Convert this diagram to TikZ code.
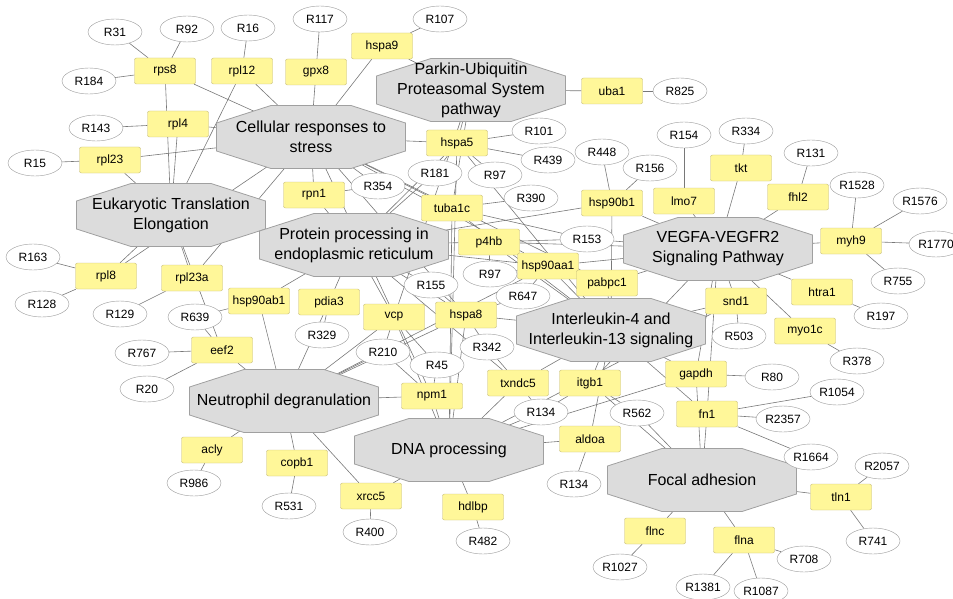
\documentclass[tikz,border=0pt]{standalone}
\usepackage{fontspec}
\setmainfont{Liberation Sans}
\usetikzlibrary{shapes.geometric, backgrounds}
\definecolor{genecolor}{RGB}{255,247,153}
\definecolor{geneborder}{RGB}{196,186,120}
\definecolor{pathcolor}{RGB}{220,220,220}
\definecolor{pathborder}{RGB}{160,160,160}
\definecolor{reactborder}{RGB}{150,150,150}
\definecolor{linkcolor}{RGB}{120,120,120}
\tikzset{
    pathway/.style={
        rectangle, minimum width=190pt, minimum height=64pt, inner sep=0pt,
        align=center, font=\fontsize{16}{20}\selectfont,
        path picture={
            \filldraw[fill=pathcolor, draw=pathborder, line width=0.8pt]
                ([xshift=55pt, yshift=-0.5pt]path picture bounding box.north west)
                -- ([xshift=-55pt, yshift=-0.5pt]path picture bounding box.north east)
                -- ([xshift=-0.5pt, yshift=-18pt]path picture bounding box.north east)
                -- ([xshift=-0.5pt, yshift=18pt]path picture bounding box.south east)
                -- ([xshift=-55pt, yshift=0.5pt]path picture bounding box.south east)
                -- ([xshift=55pt, yshift=0.5pt]path picture bounding box.south west)
                -- ([xshift=0.5pt, yshift=18pt]path picture bounding box.south west)
                -- ([xshift=0.5pt, yshift=-18pt]path picture bounding box.north west)
                -- cycle;
        }
    },
    gene/.style={
        rectangle, draw=geneborder, fill=genecolor, minimum width=61pt, minimum height=26pt,
        rounded corners=2pt, inner sep=1pt, font=\fontsize{12}{14}\selectfont
    },
    react/.style={
        ellipse, draw=reactborder, fill=white, minimum width=54pt, minimum height=26pt,
        inner sep=1pt, font=\fontsize{12}{14}\selectfont
    },
    link/.style={draw=linkcolor, line width=0.6pt}
}

\begin{document}
\begin{tikzpicture}[x=1pt, y=-1pt]
\useasboundingbox (0,0) rectangle (953,599);

% Pathways
\node[pathway] (crs) at (311,137) {Cellular responses to\\stress};
\node[pathway] (pups) at (471,90) {Parkin-Ubiquitin\\Proteasomal System\\pathway};
\node[pathway] (ete) at (171,215) {Eukaryotic Translation\\Elongation};
\node[pathway] (pper) at (354,245) {Protein processing in\\endoplasmic reticulum};
\node[pathway] (vegf) at (718,249) {VEGFA-VEGFR2\\Signaling Pathway};
\node[pathway] (il) at (611,330) {Interleukin-4 and\\Interleukin-13 signaling};
\node[pathway] (nd) at (284,401) {Neutrophil degranulation};
\node[pathway] (dna) at (449,450) {DNA processing};
\node[pathway] (fa) at (702,480) {Focal adhesion};

% Genes
\node[gene] (rps8) at (165,71) {rps8};
\node[gene] (rpl12) at (242,71) {rpl12};
\node[gene] (gpx8) at (316,72) {gpx8};
\node[gene] (hspa9) at (382,46) {hspa9};
\node[gene] (uba1) at (612,91) {uba1};
\node[gene] (rpl4) at (178,124) {rpl4};
\node[gene] (rpl23) at (110,160) {rpl23};
\node[gene] (hspa5) at (457,143) {hspa5};
\node[gene] (rpn1) at (314,195) {rpn1};
\node[gene] (tuba1c) at (452,208) {tuba1c};
\node[gene] (hsp90b1) at (612,203) {hsp90b1};
\node[gene] (lmo7) at (684,201) {lmo7};
\node[gene] (tkt) at (741,168) {tkt};
\node[gene] (fhl2) at (798,197) {fhl2};
\node[gene] (myh9) at (851,241) {myh9};
\node[gene] (p4hb) at (489,242) {p4hb};
\node[gene] (hsp90aa1) at (548,266) {hsp90aa1};
\node[gene] (pabpc1) at (607,283) {pabpc1};
\node[gene] (rpl8) at (106,276) {rpl8};
\node[gene] (rpl23a) at (192,278) {rpl23a};
\node[gene] (hsp90ab1) at (259,301) {hsp90ab1};
\node[gene] (pdia3) at (329,302) {pdia3};
\node[gene] (vcp) at (394,317) {vcp};
\node[gene] (hspa8) at (466,315) {hspa8};
\node[gene] (snd1) at (736,301) {snd1};
\node[gene] (htra1) at (822,292) {htra1};
\node[gene] (myo1c) at (805,331) {myo1c};
\node[gene] (eef2) at (222,350) {eef2};
\node[gene] (gapdh) at (696,374) {gapdh};
\node[gene] (txndc5) at (518,383) {txndc5};
\node[gene] (itgb1) at (590,383) {itgb1};
\node[gene] (npm1) at (432,396) {npm1};
\node[gene] (fn1) at (707,414) {fn1};
\node[gene] (aldoa) at (590,439) {aldoa};
\node[gene] (acly) at (212,450) {acly};
\node[gene] (copb1) at (297,463) {copb1};
\node[gene] (xrcc5) at (371,496) {xrcc5};
\node[gene] (hdlbp) at (473,507) {hdlbp};
\node[gene] (tln1) at (841,497) {tln1};
\node[gene] (flnc) at (655,531) {flnc};
\node[gene] (flna) at (744,540) {flna};

% Reactions
\node[react] (r31) at (115,32) {R31};
\node[react] (r92) at (187,29) {R92};
\node[react] (r16) at (248,28) {R16};
\node[react] (r117) at (320,19) {R117};
\node[react] (r107) at (440,19) {R107};
\node[react] (r184) at (89,81) {R184};
\node[react] (r825) at (680,91) {R825};
\node[react] (r143) at (96,128) {R143};
\node[react] (r15) at (35,163) {R15};
\node[react] (r101) at (539,131) {R101};
\node[react] (r439) at (548,160) {R439};
\node[react] (r97a) at (495,175) {R97};
\node[react] (r181) at (435,173) {R181};
\node[react] (r354) at (378,186) {R354};
\node[react] (r390) at (531,198) {R390};
\node[react] (r448) at (602,152) {R448};
\node[react] (r154) at (684,135) {R154};
\node[react] (r334) at (746,131) {R334};
\node[react] (r156) at (650,168) {R156};
\node[react] (r131) at (811,153) {R131};
\node[react] (r1528) at (857,185) {R1528};
\node[react] (r1576) at (920,201) {R1576};
\node[react] (r1770) at (936,244) {R1770};
\node[react] (r755) at (898,281) {R755};
\node[react] (r153) at (587,239) {R153};
\node[react] (r97b) at (490,274) {R97};
\node[react] (r155) at (431,285) {R155};
\node[react] (r647) at (523,296) {R647};
\node[react] (r163) at (33,257) {R163};
\node[react] (r128) at (42,304) {R128};
\node[react] (r129) at (120,314) {R129};
\node[react] (r639) at (195,317) {R639};
\node[react] (r329) at (322,335) {R329};
\node[react] (r197) at (881,316) {R197};
\node[react] (r503) at (739,336) {R503};
\node[react] (r378) at (857,361) {R378};
\node[react] (r767) at (142,353) {R767};
\node[react] (r20) at (147,389) {R20};
\node[react] (r210) at (383,352) {R210};
\node[react] (r45) at (437,365) {R45};
\node[react] (r342) at (487,347) {R342};
\node[react] (r80) at (772,377) {R80};
\node[react] (r1054) at (837,392) {R1054};
\node[react] (r134a) at (541,412) {R134};
\node[react] (r562) at (637,413) {R562};
\node[react] (r2357) at (783,419) {R2357};
\node[react] (r1664) at (811,457) {R1664};
\node[react] (r2057) at (882,466) {R2057};
\node[react] (r134b) at (574,484) {R134};
\node[react] (r986) at (194,483) {R986};
\node[react] (r531) at (289,506) {R531};
\node[react] (r400) at (370,532) {R400};
\node[react] (r482) at (483,541) {R482};
\node[react] (r741) at (873,541) {R741};
\node[react] (r708) at (804,559) {R708};
\node[react] (r1027) at (620,567) {R1027};
\node[react] (r1381) at (703,587) {R1381};
\node[react] (r1087) at (761,591) {R1087};

\begin{scope}[on background layer]
% Gene to pathway links
\draw[link] (rps8) -- (crs.center);
\draw[link] (rps8) -- (ete.center);
\draw[link] (rpl12) -- (crs.center);
\draw[link] (rpl12) -- (ete.center);
\draw[link] (gpx8) -- (crs.center);
\draw[link] (hspa9) -- (crs.center);
\draw[link] (hspa9) -- (pups.center);
\draw[link] (uba1) -- (pups.center);
\draw[link] (rpl4) -- (crs.center);
\draw[link] (rpl4) -- (ete.center);
\draw[link] (rpl23) -- (crs.center);
\draw[link] (rpl23) -- (ete.center);
\draw[link] (rpl8) -- (ete.center);
\draw[link] (rpl8) -- (crs.center);
\draw[link] (rpl23a) -- (ete.center);
\draw[link] (rpl23a) -- (crs.center);
\draw[link] (eef2) -- (ete.center);
\draw[link] (eef2) -- (nd.center);
\draw[link] (hsp90ab1) -- (nd.center);
\draw[link] (hsp90ab1) -- (pper.center);
\draw[link] (pdia3) -- (pper.center);
\draw[link] (pdia3) -- (nd.center);
\draw[link] (acly) -- (nd.center);
\draw[link] (copb1) -- (nd.center);
\draw[link] (xrcc5) -- (nd.center);
\draw[link] (xrcc5) -- (dna.center);
\draw[link] (hdlbp) -- (dna.center);
\draw[link] (rpn1) -- (crs.center);
\draw[link] (rpn1) -- (pper.center);
\draw[link] (hspa5) -- (crs.center);
\draw[link] (hspa5) -- (pups.center);
\draw[link] (hspa5) -- (pper.center);
\draw[link] (hspa5) -- (il.center);
\draw[link] (hspa5) -- (dna.center);
\draw[link] (tuba1c) -- (crs.center);
\draw[link] (tuba1c) -- (pups.center);
\draw[link] (tuba1c) -- (il.center);
\draw[link] (tuba1c) -- (dna.center);
\draw[link] (p4hb) -- (pper.center);
\draw[link] (p4hb) -- (vegf.center);
\draw[link] (p4hb) -- (il.center);
\draw[link] (hsp90aa1) -- (pper.center);
\draw[link] (hsp90aa1) -- (vegf.center);
\draw[link] (hsp90aa1) -- (il.center);
\draw[link] (hsp90aa1) -- (crs.center);
\draw[link] (hsp90aa1) -- (nd.center);
\draw[link] (hsp90b1) -- (pper.center);
\draw[link] (hsp90b1) -- (vegf.center);
\draw[link] (hsp90b1) -- (il.center);
\draw[link] (pabpc1) -- (vegf.center);
\draw[link] (pabpc1) -- (il.center);
\draw[link] (pabpc1) -- (crs.center);
\draw[link] (lmo7) -- (vegf.center);
\draw[link] (tkt) -- (vegf.center);
\draw[link] (fhl2) -- (vegf.center);
\draw[link] (myh9) -- (vegf.center);
\draw[link] (htra1) -- (vegf.center);
\draw[link] (myo1c) -- (vegf.center);
\draw[link] (snd1) -- (vegf.center);
\draw[link] (snd1) -- (il.center);
\draw[link] (snd1) -- (dna.center);
\draw[link] (vcp) -- (pper.center);
\draw[link] (vcp) -- (nd.center);
\draw[link] (vcp) -- (dna.center);
\draw[link] (vcp) -- (pups.center);
\draw[link] (hspa8) -- (pper.center);
\draw[link] (hspa8) -- (crs.center);
\draw[link] (hspa8) -- (nd.center);
\draw[link] (hspa8) -- (dna.center);
\draw[link] (hspa8) -- (il.center);
\draw[link] (npm1) -- (dna.center);
\draw[link] (npm1) -- (nd.center);
\draw[link] (npm1) -- (crs.center);
\draw[link] (txndc5) -- (pper.center);
\draw[link] (txndc5) -- (dna.center);
\draw[link] (txndc5) -- (il.center);
\draw[link] (itgb1) -- (il.center);
\draw[link] (itgb1) -- (fa.center);
\draw[link] (itgb1) -- (vegf.center);
\draw[link] (gapdh) -- (il.center);
\draw[link] (gapdh) -- (vegf.center);
\draw[link] (gapdh) -- (dna.center);
\draw[link] (gapdh) -- (fa.center);
\draw[link] (fn1) -- (fa.center);
\draw[link] (fn1) -- (vegf.center);
\draw[link] (fn1) -- (il.center);
\draw[link] (aldoa) -- (dna.center);
\draw[link] (aldoa) -- (il.center);
\draw[link] (tln1) -- (fa.center);
\draw[link] (flnc) -- (fa.center);
\draw[link] (flna) -- (fa.center);

% Reaction links
\draw[link] (r31) -- (rps8);
\draw[link] (r92) -- (rps8);
\draw[link] (r184) -- (rps8);
\draw[link] (r16) -- (rpl12);
\draw[link] (r117) -- (gpx8);
\draw[link] (r107) -- (hspa9);
\draw[link] (r825) -- (uba1);
\draw[link] (r143) -- (rpl4);
\draw[link] (r15) -- (rpl23);
\draw[link] (r101) -- (hspa5);
\draw[link] (r439) -- (hspa5);
\draw[link] (r97a) -- (hspa5);
\draw[link] (r181) -- (hspa5);
\draw[link] (r181) -- (pper.center);
\draw[link] (r354) -- (rpn1);
\draw[link] (r354) -- (crs.center);
\draw[link] (r390) -- (tuba1c);
\draw[link] (r448) -- (hsp90b1);
\draw[link] (r156) -- (hsp90b1);
\draw[link] (r154) -- (lmo7);
\draw[link] (r334) -- (tkt);
\draw[link] (r131) -- (fhl2);
\draw[link] (r1528) -- (myh9);
\draw[link] (r1576) -- (myh9);
\draw[link] (r1770) -- (myh9);
\draw[link] (r755) -- (myh9);
\draw[link] (r153) -- (tuba1c);
\draw[link] (r153) -- (p4hb);
\draw[link] (r153) -- (vegf.center);
\draw[link] (r97b) -- (p4hb);
\draw[link] (r97b) -- (hsp90aa1);
\draw[link] (r155) -- (pper.center);
\draw[link] (r155) -- (hspa8);
\draw[link] (r647) -- (hsp90aa1);
\draw[link] (r647) -- (hspa8);
\draw[link] (r163) -- (rpl8);
\draw[link] (r128) -- (rpl8);
\draw[link] (r129) -- (rpl23a);
\draw[link] (r639) -- (hsp90ab1);
\draw[link] (r639) -- (eef2);
\draw[link] (r329) -- (pdia3);
\draw[link] (r197) -- (htra1);
\draw[link] (r503) -- (snd1);
\draw[link] (r378) -- (myo1c);
\draw[link] (r767) -- (eef2);
\draw[link] (r20) -- (eef2);
\draw[link] (r210) -- (vcp);
\draw[link] (r210) -- (nd.center);
\draw[link] (r210) -- (npm1);
\draw[link] (r45) -- (npm1);
\draw[link] (r45) -- (vcp);
\draw[link] (r342) -- (hspa8);
\draw[link] (r342) -- (txndc5);
\draw[link] (r80) -- (gapdh);
\draw[link] (r1054) -- (fn1);
\draw[link] (r2357) -- (fn1);
\draw[link] (r1664) -- (fn1);
\draw[link] (r134a) -- (txndc5);
\draw[link] (r134a) -- (itgb1);
\draw[link] (r134a) -- (dna.center);
\draw[link] (r562) -- (itgb1);
\draw[link] (r562) -- (fa.center);
\draw[link] (r2057) -- (tln1);
\draw[link] (r741) -- (tln1);
\draw[link] (r134b) -- (aldoa);
\draw[link] (r986) -- (acly);
\draw[link] (r531) -- (copb1);
\draw[link] (r400) -- (xrcc5);
\draw[link] (r482) -- (hdlbp);
\draw[link] (r708) -- (flna);
\draw[link] (r1027) -- (flnc);
\draw[link] (r1381) -- (flna);
\draw[link] (r1087) -- (flna);
\end{scope}

\end{tikzpicture}
\end{document}
